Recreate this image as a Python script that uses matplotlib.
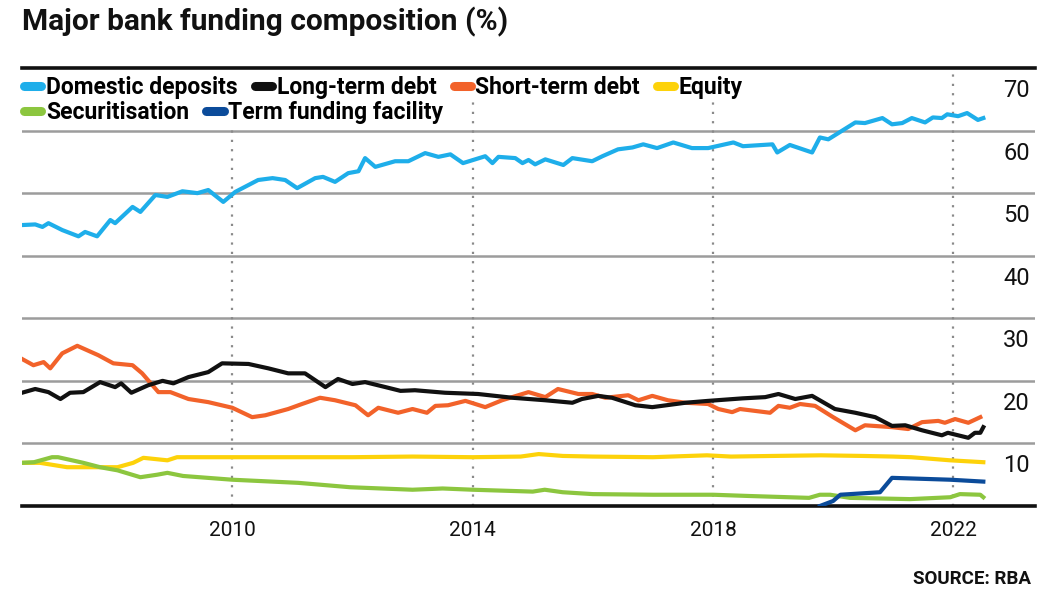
import matplotlib
matplotlib.use("Agg")
import matplotlib.pyplot as plt
import matplotlib.transforms as mtransforms
from matplotlib import font_manager
from matplotlib.lines import Line2D

# values (decimal years, % of funding)
dep_x = [2006.5, 2006.72, 2006.84, 2006.94, 2007.17, 2007.44, 2007.55, 2007.75, 2007.97,
         2008.05, 2008.34, 2008.47, 2008.72, 2008.92, 2009.17, 2009.42, 2009.60, 2009.85,
         2010.05, 2010.43, 2010.67, 2010.88, 2011.08, 2011.38, 2011.51, 2011.71, 2011.93,
         2012.10, 2012.21, 2012.38, 2012.71, 2012.93, 2013.21, 2013.43, 2013.63, 2013.84,
         2014.21, 2014.33, 2014.43, 2014.71, 2014.83, 2014.93, 2015.04, 2015.21, 2015.51,
         2015.66, 2015.99, 2016.16, 2016.42, 2016.66, 2016.84, 2017.07, 2017.34, 2017.65,
         2017.92, 2018.34, 2018.50, 2018.99, 2019.07, 2019.28, 2019.65, 2019.78, 2019.92,
         2020.37, 2020.53, 2020.82, 2020.98, 2021.15, 2021.31, 2021.53, 2021.66, 2021.81,
         2021.90, 2022.08, 2022.23, 2022.41, 2022.50]
dep_y = [44.9, 45.0, 44.6, 45.2, 44.1, 43.1, 43.8, 43.1, 45.7,
         45.2, 47.8, 47.0, 49.7, 49.4, 50.3, 50.0, 50.5, 48.6,
         50.2, 52.1, 52.4, 52.1, 50.8, 52.4, 52.6, 51.8, 53.2,
         53.5, 55.6, 54.2, 55.1, 55.1, 56.4, 55.8, 56.2, 54.8,
         55.9, 54.8, 55.8, 55.6, 54.8, 55.3, 54.6, 55.4, 54.5,
         55.6, 55.1, 55.9, 57.0, 57.3, 57.8, 57.2, 58.1, 57.2,
         57.2, 58.1, 57.5, 57.8, 56.5, 57.7, 56.5, 58.9, 58.6,
         61.3, 61.2, 62.0, 61.0, 61.2, 62.0, 61.3, 62.1, 62.0,
         62.6, 62.3, 62.8, 61.7, 62.0]

lt_x = [2006.5, 2006.72, 2006.94, 2007.14, 2007.30, 2007.52, 2007.80, 2008.05, 2008.15,
        2008.32, 2008.60, 2008.84, 2009.02, 2009.27, 2009.60, 2009.83, 2010.27, 2010.60,
        2010.93, 2011.21, 2011.55, 2011.76, 2012.00, 2012.21, 2012.55, 2012.80, 2013.04,
        2013.54, 2014.09, 2014.66, 2015.21, 2015.66, 2015.82, 2016.09, 2016.32, 2016.71,
        2016.99, 2017.54, 2017.92, 2018.49, 2018.87, 2019.09, 2019.37, 2019.65, 2020.03,
        2020.37, 2020.70, 2020.98, 2021.20, 2021.48, 2021.81, 2021.91, 2022.25, 2022.36,
        2022.45, 2022.50]
lt_y = [18.1, 18.7, 18.2, 17.1, 18.1, 18.2, 19.8, 19.0, 19.6,
        18.1, 19.3, 20.0, 19.6, 20.6, 21.4, 22.8, 22.7, 22.0,
        21.2, 21.2, 19.0, 20.3, 19.5, 19.8, 19.0, 18.4, 18.5,
        18.1, 17.9, 17.3, 16.9, 16.5, 17.1, 17.6, 17.3, 16.1,
        15.8, 16.5, 16.8, 17.2, 17.4, 17.9, 17.1, 17.6, 15.5,
        14.9, 14.2, 12.8, 12.9, 12.1, 11.3, 11.7, 10.9, 11.7,
        11.7, 12.6]

st_x = [2006.5, 2006.69, 2006.86, 2006.97, 2007.17, 2007.42, 2007.77, 2008.02, 2008.34,
        2008.50, 2008.77, 2008.97, 2009.27, 2009.60, 2010.00, 2010.33, 2010.55, 2010.93,
        2011.16, 2011.46, 2011.71, 2012.05, 2012.26, 2012.43, 2012.76, 2013.00, 2013.24,
        2013.38, 2013.59, 2013.88, 2014.21, 2014.49, 2014.93, 2015.21, 2015.42, 2015.76,
        2015.99, 2016.21, 2016.59, 2016.76, 2016.99, 2017.25, 2017.54, 2017.92, 2018.09,
        2018.32, 2018.45, 2018.95, 2019.09, 2019.28, 2019.45, 2019.70, 2020.00, 2020.37,
        2020.53, 2020.98, 2021.25, 2021.48, 2021.75, 2021.86, 2022.03, 2022.25, 2022.45]
st_y = [23.5, 22.5, 23.0, 22.0, 24.4, 25.6, 24.1, 22.8, 22.5,
        21.2, 18.2, 18.2, 17.1, 16.6, 15.7, 14.2, 14.5, 15.5,
        16.3, 17.3, 16.9, 16.1, 14.5, 15.7, 14.9, 15.5, 14.9,
        16.0, 16.1, 16.8, 15.8, 16.9, 18.2, 17.4, 18.7, 17.9,
        17.9, 17.3, 17.7, 16.9, 17.6, 16.9, 16.5, 16.3, 15.5,
        15.0, 15.5, 14.9, 16.0, 15.7, 16.3, 16.0, 14.2, 12.1,
        12.9, 12.6, 12.3, 13.4, 13.6, 13.3, 13.9, 13.3, 14.2]

eq_x = [2006.5, 2006.8, 2007.25, 2007.8, 2008.09, 2008.35, 2008.52, 2008.92, 2009.08,
        2010.0, 2011.0, 2012.0, 2013.0, 2014.0, 2014.8, 2015.1, 2015.5, 2016.0,
        2017.0, 2017.9, 2018.3, 2019.0, 2019.8, 2020.5, 2021.0, 2021.3, 2021.95, 2022.5]
eq_y = [6.9, 6.9, 6.2, 6.2, 6.2, 6.9, 7.7, 7.3, 7.8,
        7.8, 7.8, 7.8, 7.9, 7.8, 7.9, 8.3, 8.0, 7.9,
        7.8, 8.1, 7.9, 8.0, 8.1, 8.0, 7.9, 7.8, 7.3, 7.0]

sec_x = [2006.5, 2006.7, 2007.0, 2007.1, 2007.52, 2007.8, 2008.09, 2008.47, 2008.75,
         2008.92, 2009.18, 2010.0, 2011.1, 2011.96, 2013.0, 2013.5, 2014.0, 2015.0,
         2015.2, 2015.5, 2016.0, 2017.0, 2018.0, 2018.6, 2019.6, 2019.78, 2019.95,
         2020.28, 2021.28, 2021.95, 2022.11, 2022.45, 2022.5]
sec_y = [6.9, 7.0, 7.8, 7.8, 6.9, 6.2, 5.7, 4.6, 5.0,
         5.3, 4.8, 4.2, 3.7, 3.0, 2.6, 2.8, 2.6, 2.3,
         2.6, 2.2, 1.9, 1.8, 1.8, 1.6, 1.3, 1.8, 1.8,
         1.3, 1.1, 1.4, 1.9, 1.8, 1.4]

tff_x = [2019.78, 2020.0, 2020.12, 2020.78, 2020.98, 2021.95, 2022.5]
tff_y = [0.0, 0.8, 1.8, 2.2, 4.5, 4.2, 3.9]

year_ticks = [2010, 2014, 2018, 2022]
y_ticks = [10, 20, 30, 40, 50, 60, 70]

series_names = ['Domestic deposits', 'Long-term debt', 'Short-term debt', 'Equity',
                'Securitisation', 'Term funding facility']
colors = {'Domestic deposits': '#1eaeea', 'Long-term debt': '#111111',
          'Short-term debt': '#f2622a', 'Equity': '#fdd20a',
          'Securitisation': '#8cc63f', 'Term funding facility': '#0b4b9a'}

installed = {f.name for f in font_manager.fontManager.ttflist}
narrow = 'Liberation Sans Narrow' if 'Liberation Sans Narrow' in installed else 'Roboto'
bold_font = 'Roboto'

fig = plt.figure(figsize=(10.39, 5.95), dpi=100)
ax = fig.add_axes([22 / 1039, 89 / 595, 1013 / 1039, 438 / 595])

lw = 3.0
ax.plot(dep_x, dep_y, color=colors['Domestic deposits'], lw=lw, zorder=3)
ax.plot(st_x, st_y, color=colors['Short-term debt'], lw=lw, zorder=3)
ax.plot(lt_x, lt_y, color=colors['Long-term debt'], lw=lw, zorder=3)
ax.plot(eq_x, eq_y, color=colors['Equity'], lw=lw, zorder=3)
ax.plot(sec_x, sec_y, color=colors['Securitisation'], lw=lw, zorder=3)
ax.plot(tff_x, tff_y, color=colors['Term funding facility'], lw=lw, zorder=3)

ax.set_xlim(2006.5, 2023.36)
ax.set_ylim(0, 70)

# horizontal gridlines and dotted year lines
for v in y_ticks[:-1]:
    ax.axhline(v, color='#9c9c9c', lw=1.8, zorder=1)
for yr in year_ticks:
    ax.axvline(yr, color='#8a8a8a', lw=1.6, ls=(0, (1, 3.2)), zorder=1)

for s in ['left', 'right']:
    ax.spines[s].set_visible(False)
ax.spines['top'].set_linewidth(2.6)
ax.spines['bottom'].set_linewidth(2.6)
ax.spines['top'].set_color('#111111')
ax.spines['bottom'].set_color('#111111')

ax.set_yticks([])
ax.set_xticks(year_ticks)
ax.set_xticklabels([str(y) for y in year_ticks], fontfamily=narrow, fontsize=15,
                   color='#111111')
ax.tick_params(axis='x', length=0, pad=11)

# value labels sit just under each gridline on the right
trans = mtransforms.blended_transform_factory(ax.transAxes, ax.transData)
for v in y_ticks:
    ax.text(0.995, v - 3.6, str(v), transform=trans, ha='right', va='center',
            fontsize=17, fontfamily=narrow, color='#111111', zorder=4)

# legend in two free-flowing rows
def handle(name):
    return Line2D([], [], color=colors[name], lw=6.5, solid_capstyle='round')

leg_kw = dict(frameon=True, facecolor='white', edgecolor='none', framealpha=1,
              handlelength=0.75, handletextpad=0.2, columnspacing=0.75, borderpad=0.1,
              borderaxespad=0, prop={'family': bold_font, 'weight': 'bold', 'size': 16.5})
row1 = series_names[:4]
row2 = series_names[4:]
leg1 = ax.legend([handle(n) for n in row1], row1, ncol=4, loc='upper left',
                 bbox_to_anchor=(22 / 1039, 1 - 74 / 595), bbox_transform=fig.transFigure,
                 **leg_kw)
ax.add_artist(leg1)
ax.legend([handle(n) for n in row2], row2, ncol=2, loc='upper left',
          bbox_to_anchor=(22 / 1039, 1 - 99 / 595), bbox_transform=fig.transFigure,
          **leg_kw)

fig.text(22 / 1039, 1 - 22 / 595, 'Major bank funding composition (%)', ha='left', va='center',
         fontsize=21.5, fontweight='bold', fontfamily=bold_font, color='#111111')
fig.text(1031 / 1039, 1 - 579 / 595, 'SOURCE: RBA', ha='right', va='center',
         fontsize=13.5, fontweight='bold', fontfamily=narrow, color='#111111')

fig.savefig('out.png', dpi=100)
